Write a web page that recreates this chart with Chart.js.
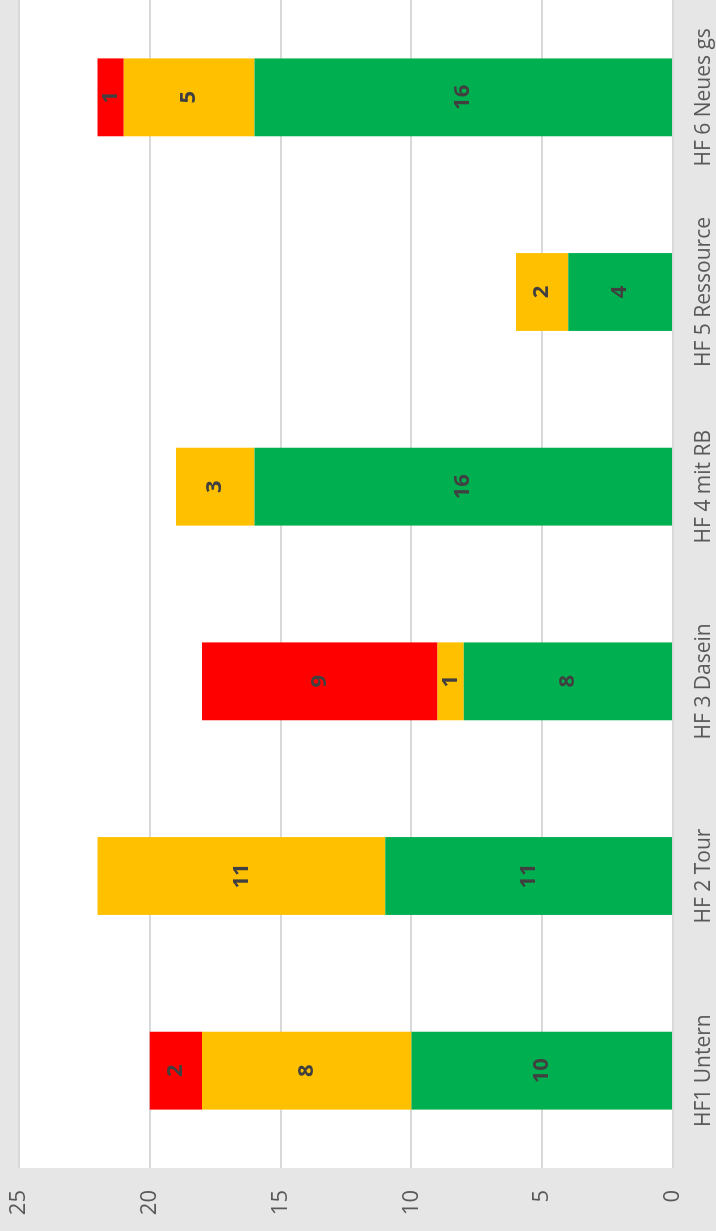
<!DOCTYPE html>
<html>
<head>
<meta charset="utf-8">
<script src="https://cdn.jsdelivr.net/npm/chart.js@4.4.1/dist/chart.umd.min.js"></script>
<style>
  html, body { margin: 0; padding: 0; background: #e6e6e6; overflow: hidden; }
  /* the chart is drawn as a normal column chart and turned a quarter left */
  #wrap {
    position: absolute; left: 0; top: 0; width: 1231px; height: 716px;
    transform-origin: 0 0; transform: translate(0, 1231px) rotate(-90deg);
  }
</style>
</head>
<body>
<div id="wrap"><canvas id="chart" width="1231" height="716"></canvas></div>
<script>
/* values */
const categories = ['HF1 Untern', 'HF 2 Tour', 'HF 3 Dasein', 'HF 4 mit RB', 'HF 5 Ressource', 'HF 6 Neues gs'];
const greenVals  = [10, 11, 8, 16, 4, 16];
const yellowVals = [8, 11, 1, 3, 2, 5];
const redVals    = [2, 0, 9, 0, 0, 1];
const valueTicks = [0, 5, 10, 15, 20, 25];

const FONT = '"Open Sans", "Liberation Sans", sans-serif';

/* white plot area on the grey chart background */
const plotBg = {
  id: 'plotBg',
  beforeDraw(chart) {
    const { ctx, chartArea: a } = chart;
    ctx.save();
    ctx.fillStyle = '#ffffff';
    ctx.fillRect(a.left, a.top, a.right - a.left, a.bottom - a.top);
    ctx.restore();
  }
};

/* value in the middle of every non-empty segment */
const segLabels = {
  id: 'segLabels',
  afterDatasetsDraw(chart) {
    const ctx = chart.ctx;
    ctx.save();
    ctx.font = 'bold 22px ' + FONT;
    ctx.fillStyle = '#404040';
    ctx.textAlign = 'center';
    ctx.textBaseline = 'middle';
    chart.data.datasets.forEach((ds, i) => {
      const meta = chart.getDatasetMeta(i);
      meta.data.forEach((bar, j) => {
        const v = ds.data[j];
        if (!v) return;
        ctx.fillText(String(v), bar.x, (bar.y + bar.base) / 2);
      });
    });
    ctx.restore();
  }
};

new Chart(document.getElementById('chart'), {
  type: 'bar',
  data: {
    labels: categories,
    datasets: [
      { label: 'grün', data: greenVals, backgroundColor: '#00b050' },
      { label: 'gelb', data: yellowVals, backgroundColor: '#ffc000' },
      { label: 'rot', data: redVals, backgroundColor: '#ff0000' }
    ]
  },
  options: {
    responsive: false,
    animation: false,
    devicePixelRatio: 1,
    layout: { padding: { top: 19, right: 0, bottom: 0, left: 0 } },
    datasets: { bar: { categoryPercentage: 1, barPercentage: 0.4 } },
    plugins: { legend: { display: false }, tooltip: { enabled: false } },
    scales: {
      x: {
        stacked: true,
        grid: { display: false, drawTicks: false },
        border: { display: false },
        ticks: { color: '#595959', font: { family: FONT, size: 21 }, padding: 18, maxRotation: 0, autoSkip: false },
        afterFit(s) { s.height = 43; s.paddingLeft = 0; s.paddingRight = 0; }
      },
      y: {
        stacked: true,
        min: 0, max: 25,
        afterBuildTicks(s) { s.ticks = valueTicks.map(v => ({ value: v })); },
        grid: { color: '#d9d9d9', lineWidth: 2, drawTicks: false },
        border: { display: false },
        ticks: { color: '#595959', font: { family: FONT, size: 22 }, padding: 22 },
        afterFit(s) { s.width = 63; s.paddingTop = 0; s.paddingBottom = 0; }
      }
    }
  },
  plugins: [plotBg, segLabels]
});
</script>
</body>
</html>
